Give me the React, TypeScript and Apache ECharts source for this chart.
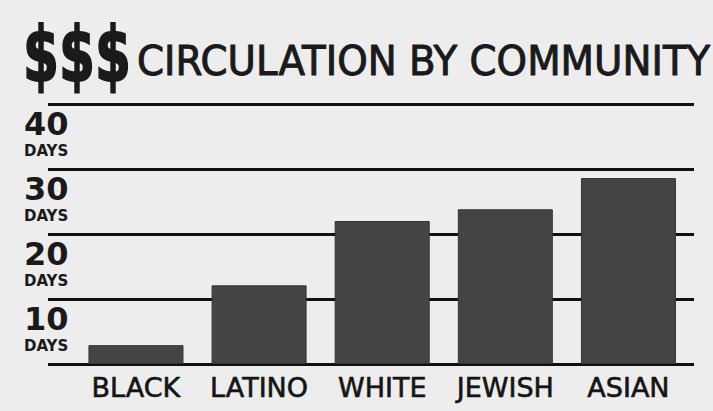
import React, { useEffect, useRef } from "react";
import * as echarts from "echarts";

const categories = ["BLACK", "LATINO", "WHITE", "JEWISH", "ASIAN"];
const daysValues = [2.9, 12.1, 22, 23.8, 28.6];
const yTicks = [0, 10, 20, 30, 40];
const titleSymbol = "$$$";
const titleText = "CIRCULATION BY COMMUNITY";
const unitLabel = "DAYS";

export default function App() {
  const ref = useRef<HTMLDivElement>(null);
  useEffect(() => {
    if (!ref.current) return;
    const chart = echarts.init(ref.current, null, { renderer: "svg" });
    const yMax = yTicks[yTicks.length - 1];
    const step = yTicks[1] - yTicks[0];
    chart.setOption({
      animation: false,
      backgroundColor: "#ededed",
      grid: [
        { left: 48, right: 19, top: 104, bottom: 47 },
        { left: 74.4, right: 23, top: 104, bottom: 47 },
      ],
      xAxis: [
        { type: "category", gridIndex: 0, data: categories, show: false },
        {
          type: "category",
          gridIndex: 1,
          data: categories,
          axisLine: { show: false },
          axisTick: { show: false },
          axisLabel: {
            interval: 0,
            color: "#151515",
            fontFamily: "DejaVu Sans",
            fontSize: 27,
            margin: 10,
            textBorderColor: "#151515",
            textBorderWidth: 0.6,
          },
        },
      ],
      yAxis: [
        {
          type: "value",
          gridIndex: 0,
          min: 0,
          max: yMax,
          interval: step,
          axisLine: { show: false },
          axisTick: { show: false },
          splitLine: { show: true, lineStyle: { color: "#111", width: 3 } },
          axisLabel: {
            margin: 24,
            align: "left",
            verticalAlign: "top",
            formatter: (v: number) => (v === 0 ? "" : `{n|${v}}\n{d|${unitLabel}}`),
            rich: {
              n: {
                fontFamily: "DejaVu Sans",
                fontWeight: "bold",
                fontSize: 32,
                lineHeight: 39,
                color: "#1a1a1a",
              },
              d: {
                fontFamily: "DejaVu Sans",
                fontWeight: "bold",
                fontSize: 15,
                lineHeight: 15,
                color: "#1a1a1a",
              },
            },
          },
        },
        {
          type: "value",
          gridIndex: 1,
          min: 0,
          max: yMax,
          interval: step,
          show: false,
          splitLine: { show: false },
        },
      ],
      series: [
        {
          type: "bar",
          xAxisIndex: 1,
          yAxisIndex: 1,
          data: daysValues,
          barWidth: 95,
          itemStyle: { color: "#444444", borderColor: "#333", borderWidth: 1 },
          z: 5,
        },
      ],
      graphic: [
        {
          type: "text",
          x: 23,
          y: 55,
          scaleX: 0.68,
          style: {
            text: titleSymbol,
            font: "bold 76px 'DejaVu Sans'",
            fill: "#1a1a1a",
            stroke: "#1a1a1a",
            lineWidth: 2,
            verticalAlign: "middle",
          },
        },
        {
          type: "text",
          x: 137,
          y: 60.5,
          scaleX: 0.97,
          style: {
            text: titleText,
            font: "40px 'DejaVu Sans'",
            fill: "#1a1a1a",
            stroke: "#1a1a1a",
            lineWidth: 1,
            verticalAlign: "middle",
          },
        },
      ],
    });
    return () => chart.dispose();
  }, []);
  return (
    <div
      ref={ref}
      style={{ position: "absolute", left: 0, top: 0, width: 713, height: 411 }}
    />
  );
}
